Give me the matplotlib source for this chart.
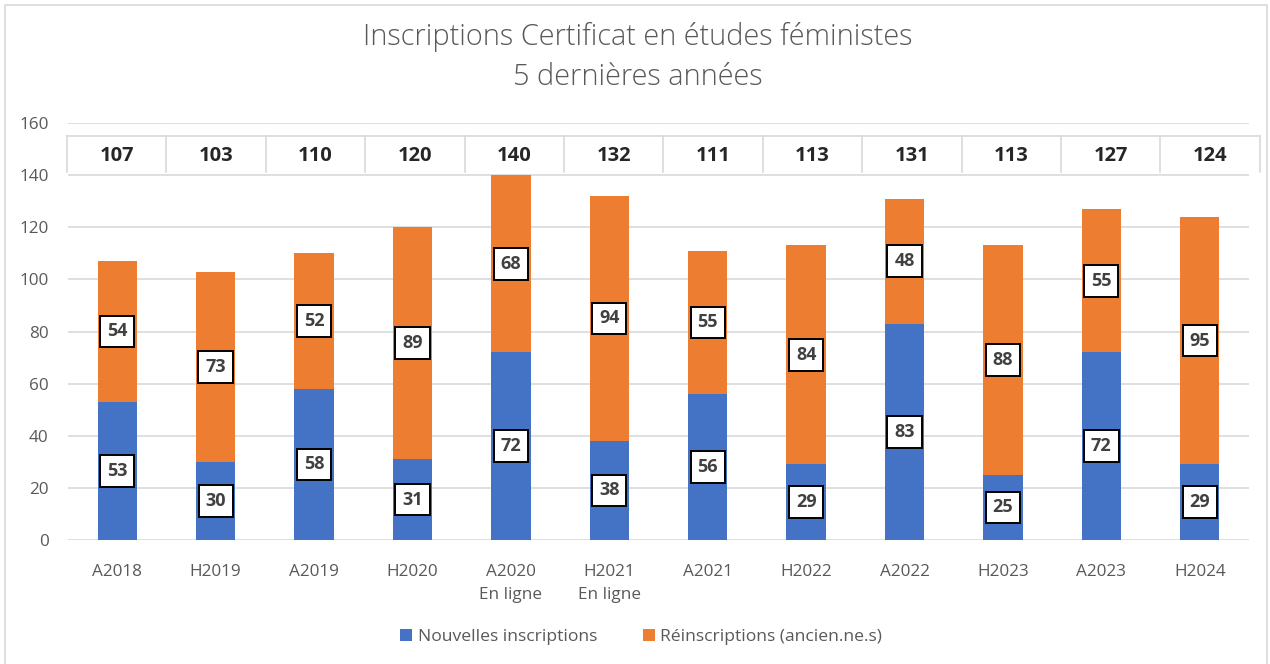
import matplotlib
matplotlib.use("Agg")
import matplotlib.pyplot as plt
from matplotlib.lines import Line2D
from matplotlib.patches import Rectangle
import numpy as np

categories = ["A2018", "H2019", "A2019", "H2020", "A2020\nEn ligne", "H2021\nEn ligne",
              "A2021", "H2022", "A2022", "H2023", "A2023", "H2024"]
nouvelles = [53, 30, 58, 31, 72, 38, 56, 29, 83, 25, 72, 29]
reinscriptions = [54, 73, 52, 89, 68, 94, 55, 84, 48, 88, 55, 95]
totals = [n + r for n, r in zip(nouvelles, reinscriptions)]
y_ticks = [0, 20, 40, 60, 80, 100, 120, 140, 160]

title = "Inscriptions Certificat en études féministes\n5 dernières années"
legend_labels = ["Nouvelles inscriptions", "Réinscriptions (ancien.ne.s)"]

BLUE = "#4472C4"
ORANGE = "#ED7D31"
GRID = "#D9D9D9"
TXT = "#595959"

plt.rcParams['font.family'] = ['Open Sans', 'DejaVu Sans']

W, H = 1270, 664
fig = plt.figure(figsize=(W / 100, H / 100), dpi=100)

# outer chart border
fig.patches.append(Rectangle((5 / W, -0.01), (1267 - 5) / W, (H - 5) / H + 0.01,
                             transform=fig.transFigure, fill=False,
                             edgecolor=GRID, linewidth=1.2))

ax = fig.add_axes([68 / W, (H - 540) / H, (1249 - 68) / W, (540 - 123) / H])
x = np.arange(len(categories))
bw = 0.4
ax.bar(x, nouvelles, bw, color=BLUE, label=legend_labels[0], zorder=2)
ax.bar(x, reinscriptions, bw, bottom=nouvelles, color=ORANGE, label=legend_labels[1], zorder=2)

ax.set_xlim(-0.5, len(categories) - 0.5)
ax.set_ylim(0, 160)
ax.set_yticks(y_ticks)
ax.set_xticks(x)
ax.set_xticklabels(categories, fontsize=12.3, color=TXT, linespacing=1.65)
ax.tick_params(axis='y', labelsize=12.3, labelcolor=TXT, length=0, pad=14)
ax.tick_params(axis='x', length=0, pad=17)
ax.grid(axis='y', color=GRID, linewidth=1.2, zorder=0)
for s in ax.spines.values():
    s.set_visible(False)

box = dict(boxstyle="square,pad=0.38", facecolor="white", edgecolor="black", linewidth=1.4)
for i in range(len(categories)):
    ax.text(x[i], nouvelles[i] / 2, str(nouvelles[i]), ha='center', va='center',
            fontsize=13, fontweight='bold', color="#404040", bbox=box, zorder=4)
    ax.text(x[i], nouvelles[i] + reinscriptions[i] / 2, str(reinscriptions[i]),
            ha='center', va='center', fontsize=13, fontweight='bold', color="#404040",
            bbox=box, zorder=4)

# totals row (table-like) above the plot
t_left, t_step = 67, 99.4
t_top, t_bot = 136, 172
fig.lines.append(Line2D([t_left / W, (t_left + 12 * t_step) / W], [1 - t_top / H, 1 - t_top / H],
                        transform=fig.transFigure, color=GRID, linewidth=1.2))
for k in range(len(categories) + 1):
    xx = (t_left + k * t_step) / W
    fig.lines.append(Line2D([xx, xx], [1 - t_top / H, 1 - t_bot / H],
                            transform=fig.transFigure, color=GRID, linewidth=1.2))
for k, t in enumerate(totals):
    fig.text((t_left + (k + 0.5) * t_step) / W, 1 - 156 / H, str(t), ha='center', va='center',
             fontsize=14.5, fontweight='bold', color="#262626")

fig.text(638 / W, 1 - 57 / H, title, ha='center', va='center', fontsize=20.8,
         color=TXT, linespacing=1.5, fontweight='light')

leg = fig.legend(loc='center', bbox_to_anchor=(641 / W, 1 - 637 / H), ncol=2, frameon=False,
                 fontsize=12.6, handlelength=0.7, handleheight=0.7, handletextpad=0.3,
                 columnspacing=2.6)
for t in leg.get_texts():
    t.set_color(TXT)

fig.savefig("out.png", dpi=100)
